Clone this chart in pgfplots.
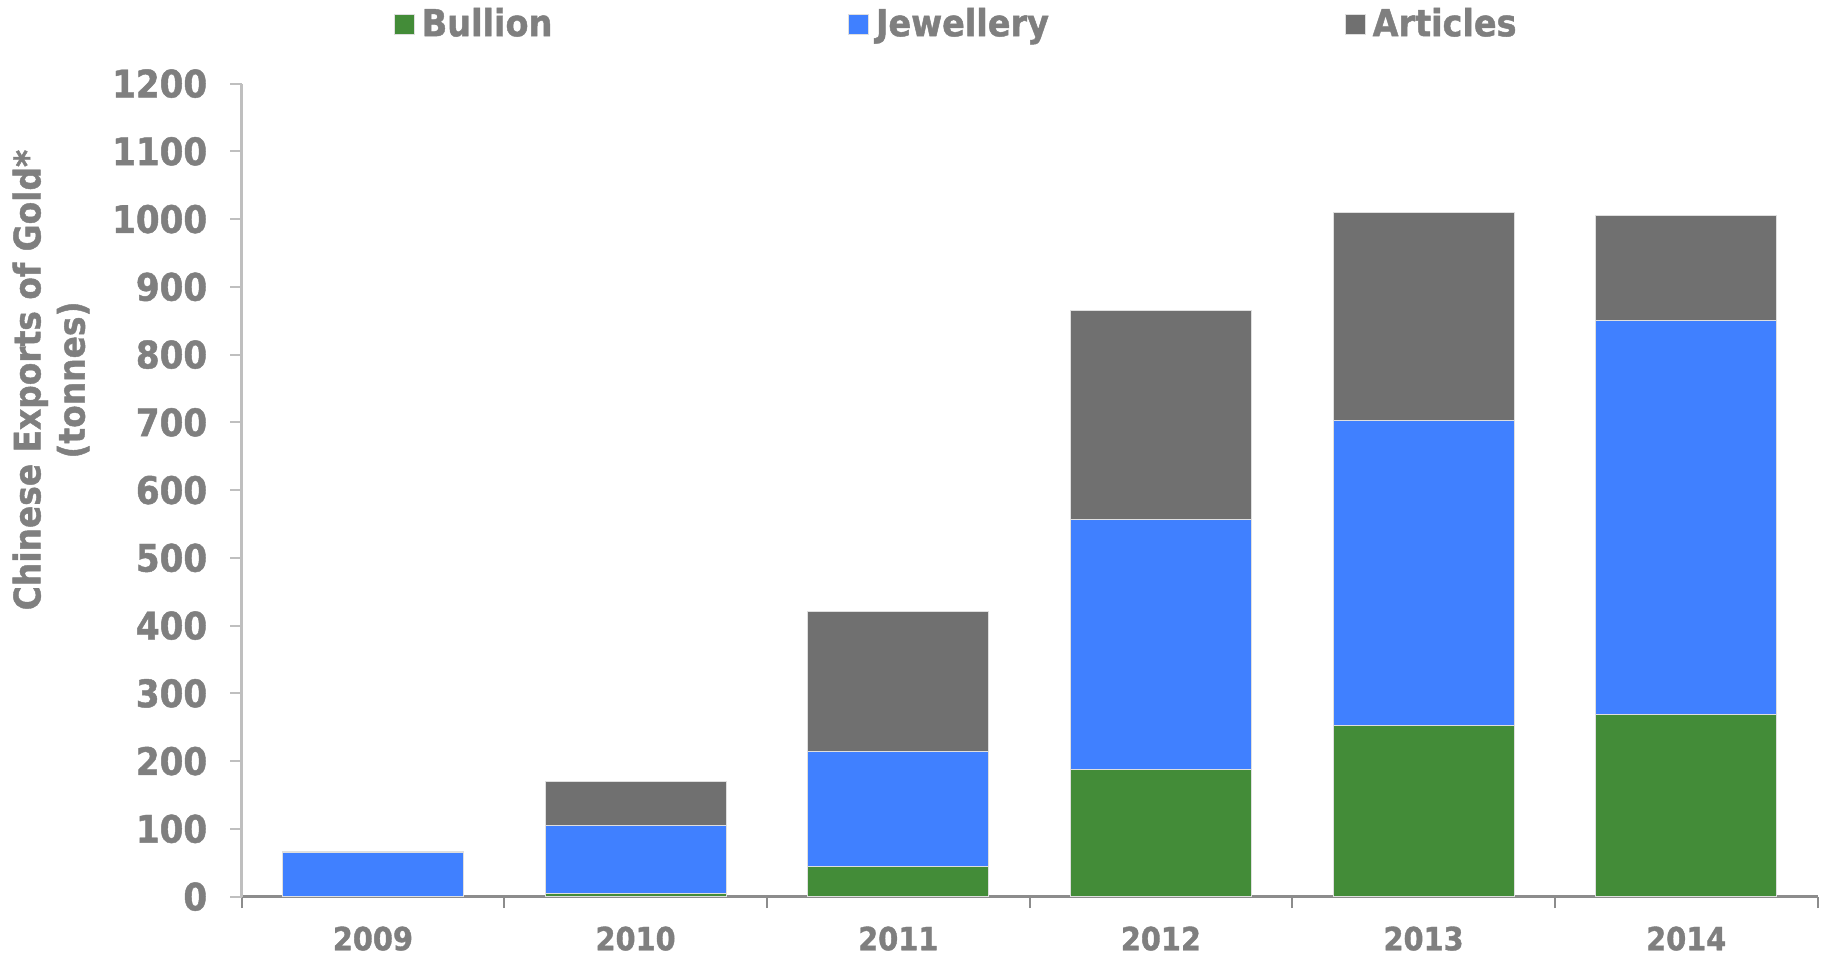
\documentclass[border=0pt]{standalone}
\usepackage{pgfplots}
\pgfplotsset{compat=1.18}
\usepackage{fontspec}
\setmainfont{DejaVu Sans Condensed}[BoldFont={DejaVu Sans Condensed Bold}, BoldFeatures={FakeBold=1.2}]
\definecolor{cGreen}{HTML}{438C38}
\definecolor{cBlue}{HTML}{4080FF}
\definecolor{cGrey}{HTML}{707070}
\definecolor{cText}{HTML}{7F7F7F}
\definecolor{cAxisY}{HTML}{BFBFBF}
\definecolor{cAxisX}{HTML}{8C8C8C}
\begin{document}
\begin{tikzpicture}
\path[use as bounding box] (-24.16mm,-6.44mm) rectangle (157.94mm,89.66mm);
\begin{axis}[
  at={(0,0)}, anchor=south west,
  scale only axis,
  width=157.6mm, height=81.3mm,
  ybar stacked,
  bar width=18.1mm,
  xmin=-0.5, xmax=5.5,
  ymin=0, ymax=1200,
  ytick={0,100,...,1200},
  xtick={-0.5,0.5,...,5.5},
  x tick label as interval,
  xticklabels={2009,2010,2011,2012,2013,2014},
  axis x line*=bottom,
  axis y line*=left,
  x axis line style={-, draw=cAxisX, line width=0.8pt},
  y axis line style={-, draw=cAxisY, line width=0.8pt},
  tick align=outside,
  major tick length=1.15mm,
  x tick style={draw=cAxisX, line width=0.6pt},
  y tick style={draw=cAxisY, line width=0.6pt},
  /pgf/number format/assume math mode=true,
  /pgf/number format/1000 sep={},
  yticklabel style={font=\fontsize{10.8}{12}\selectfont\bfseries, text=cText, xshift=-1.05mm},
  xticklabel style={font=\fontsize{9.1}{10}\selectfont\bfseries, text=cText, yshift=-0.6mm},
  ylabel={Chinese Exports of Gold*\\(tonnes)},
  ylabel style={at={(axis description cs:-0.1209,0.6354)}, anchor=center, rotate=0, align=center,
    font=\fontsize{10.4}{12.6}\selectfont\bfseries, text=cText},
  legend columns=3,
  legend style={at={(axis description cs:0.096,1.0724)}, anchor=west, draw=none, fill=none, inner sep=0pt,
    font=\fontsize{10.6}{12}\selectfont\bfseries, text=cText,
    /tikz/every even column/.append style={column sep=28.85mm}},
  legend image code/.code={\fill[#1] (0mm,-1mm) rectangle (2mm,1mm);},
  clip=false,
]
\addplot[fill=cGreen, draw=white!75!gray, line width=0.3pt] coordinates {(0,0.5) (1,5) (2,44) (3,187) (4,252) (5,269)};
\addplot[fill=cBlue, draw=white!75!gray, line width=0.3pt] coordinates {(0,65) (1,100) (2,170) (3,370) (4,451) (5,582)};
\addplot[fill=cGrey, draw=white!75!gray, line width=0.3pt] coordinates {(0,1) (1,65) (2,207) (3,308) (4,307) (5,155)};
\legend{Bullion,Jewellery,Articles}
\end{axis}
\end{tikzpicture}
\end{document}
